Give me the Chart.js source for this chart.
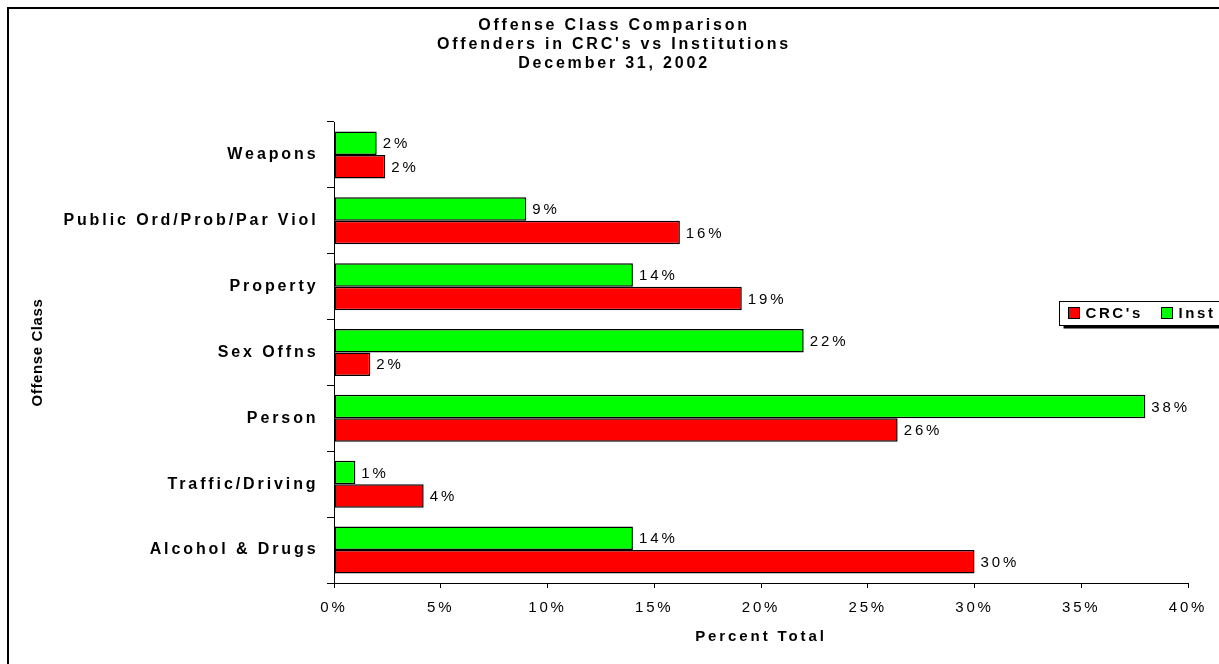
<!DOCTYPE html>
<html>
<head>
<meta charset="utf-8">
<script src="https://cdn.jsdelivr.net/npm/chart.js@4.4.1/dist/chart.umd.min.js"></script>
<style>
  html, body { margin: 0; padding: 0; background: #fff; }
  canvas { display: block; }
</style>
</head>
<body>
<canvas id="graficoOfensas" width="1219" height="664"></canvas>
<script>
// Categorias, de cima para baixo
const categorias = ['Weapons', 'Public Ord/Prob/Par Viol', 'Property', 'Sex Offns', 'Person', 'Traffic/Driving', 'Alcohol & Drugs'];
// Percentuais
const valoresInst = [2.0, 9.0, 14.0, 22.0, 38.0, 1.0, 14.0];
const valoresCrc = [2.4, 16.2, 19.1, 1.7, 26.4, 4.2, 30.0];
// Marcas do eixo X (em %)
const ticksX = [0, 5, 10, 15, 20, 25, 30, 35, 40];
const linhasTitulo = ['Offense Class Comparison', "Offenders in CRC's vs Institutions", 'December 31, 2002'];
const nomesSeries = ["CRC's", 'Inst'];
const coresSeries = ['#ff0000', '#00ff00'];

const FONTE = '"Liberation Sans", Arial, sans-serif';
const ESPACO = '2.9px'; // o Excel espalha bastante as letras

Chart.defaults.font.family = FONTE;
Chart.defaults.color = '#000';

const pluginEstilo = {
    id: 'estiloExcel',
    beforeLayout(chart) { chart.ctx.letterSpacing = ESPACO; },
    beforeDraw(chart) { chart.ctx.letterSpacing = ESPACO; },

    // Rótulos de valor no fim de cada barra
    afterDatasetsDraw(chart) {
        const ctx = chart.ctx;
        ctx.save();
        ctx.letterSpacing = ESPACO;
        ctx.font = '15px ' + FONTE;
        ctx.fillStyle = '#000';
        ctx.textAlign = 'left';
        ctx.textBaseline = 'middle';
        chart.data.datasets.forEach((ds, i) => {
            chart.getDatasetMeta(i).data.forEach((barra, j) => {
                ctx.fillText(Math.round(ds.data[j]) + '%', barra.x + 6, barra.y + 1);
            });
        });
        ctx.restore();
    },

    afterDraw(chart) {
        const ctx = chart.ctx;
        ctx.save();

        // Moldura externa (só esquerda e topo aparecem)
        ctx.strokeStyle = '#000';
        ctx.lineWidth = 2;
        ctx.beginPath();
        ctx.moveTo(8, chart.height);
        ctx.lineTo(8, 8);
        ctx.lineTo(chart.width, 8);
        ctx.stroke();

        // Título em três linhas
        ctx.letterSpacing = '2.8px';
        ctx.font = 'bold 16px ' + FONTE;
        ctx.fillStyle = '#000';
        ctx.textAlign = 'center';
        ctx.textBaseline = 'middle';
        linhasTitulo.forEach((linha, i) => ctx.fillText(linha, 614, 26 + i * 19));

        // Título do eixo Y (sem espaçamento extra)
        ctx.save();
        ctx.translate(38, (chart.chartArea.top + chart.chartArea.bottom) / 2);
        ctx.rotate(-Math.PI / 2);
        ctx.letterSpacing = '0.6px';
        ctx.font = 'bold 15px ' + FONTE;
        ctx.fillText('Offense Class', 0, 0);
        ctx.restore();

        // Legenda com sombra, cortada na borda direita
        const lx = 1059.5, ly = 301.5, lw = 220, lh = 24;
        ctx.fillStyle = '#000';
        ctx.fillRect(lx + 4, ly + 3, lw, lh);
        ctx.fillStyle = '#fff';
        ctx.fillRect(lx, ly, lw, lh);
        ctx.lineWidth = 1;
        ctx.strokeRect(lx, ly, lw, lh);

        const itens = [
            { x: 1068.5, texto: nomesSeries[0], cor: coresSeries[0] },
            { x: 1161.5, texto: nomesSeries[1], cor: coresSeries[1] }
        ];
        ctx.font = 'bold 15px ' + FONTE;
        ctx.letterSpacing = '2.6px';
        ctx.textAlign = 'left';
        itens.forEach(item => {
            ctx.fillStyle = item.cor;
            ctx.fillRect(item.x, ly + 6, 11, 11);
            ctx.strokeRect(item.x, ly + 6, 11, 11);
            ctx.fillStyle = '#000';
            ctx.fillText(item.texto, item.x + 17, ly + 12.5);
        });

        ctx.restore();
    }
};

const estiloBarra = { borderWidth: 1.5, borderColor: '#000', borderSkipped: false, categoryPercentage: 0.714, barPercentage: 1.0 };

const ctxOfensas = document.getElementById('graficoOfensas').getContext('2d');
window.chartOfensas = new Chart(ctxOfensas, {
    type: 'bar',
    data: {
        labels: categorias,
        datasets: [
            { label: nomesSeries[1], data: valoresInst, backgroundColor: coresSeries[1], ...estiloBarra },
            { label: nomesSeries[0], data: valoresCrc, backgroundColor: coresSeries[0], ...estiloBarra }
        ]
    },
    options: {
        indexAxis: 'y',
        responsive: false,
        animation: false,
        layout: { padding: { top: 122, right: 31, bottom: 0, left: 0 } },
        plugins: {
            legend: { display: false },
            title: { display: false },
            tooltip: { enabled: false }
        },
        scales: {
            x: {
                min: ticksX[0],
                max: ticksX[ticksX.length - 1],
                ticks: { stepSize: ticksX[1] - ticksX[0], callback: v => v + '%', padding: 11, font: { size: 15 }, color: '#000' },
                grid: { drawOnChartArea: false, tickLength: 5, color: '#000' },
                border: { color: '#000' },
                title: { display: true, text: 'Percent Total', font: { size: 15, weight: 'bold' }, padding: { top: 0, bottom: 18 } },
                afterFit: s => { s.height = 81; }
            },
            y: {
                ticks: { font: { size: 16, weight: 'bold' }, padding: 8.5, color: '#000' },
                grid: { drawOnChartArea: false, tickLength: 7, color: '#000' },
                border: { color: '#000' },
                afterFit: s => { s.width = 334; }
            }
        }
    },
    plugins: [pluginEstilo]
});
</script>
</body>
</html>
